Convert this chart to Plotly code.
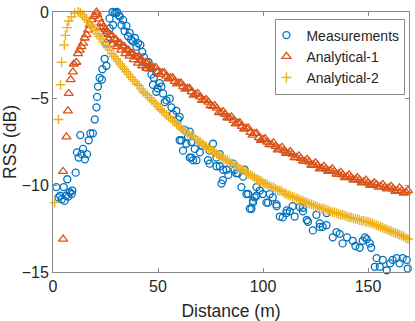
import plotly.graph_objects as go

# measured RSS
meas_x = [1.6, 2.6, 3.4, 4.2, 5.1, 5.5, 6.2, 6.8, 7.3, 8.0, 8.9, 9.2, 10.8,
          11.4, 12.2, 13.0, 13.6, 14.3, 15.2, 16.2, 17.0, 17.8, 19.0,
          19.9, 20.7, 21.0, 21.4, 22.2, 23.3, 23.5, 24.6, 25.4, 25.4, 25.7, 26.9, 27.0,
          28.3, 28.6, 29.4, 30.2, 30.5, 31.4, 31.8, 32.6, 33.3, 34.1, 35.0, 35.7, 36.5,
          37.2, 38.1, 39.0, 39.7, 40.5, 41.6, 42.5, 43.3, 44.5, 45.5, 46.4, 46.9, 47.6,
          48.0, 49.2, 49.2, 49.8, 50.8, 51.6, 52.4, 53.2, 54.0, 55.6, 56.4, 57.1, 58.7,
          59.5, 60.3, 60.3, 61.1, 61.9, 62.7, 63.5, 64.3, 65.1, 65.1, 65.9, 65.9, 66.7,
          67.5, 68.3, 69.9, 71.0, 73.8, 74.6, 74.6, 76.2, 77.8, 77.8, 79.4, 79.4, 80.2,
          80.9, 81.0, 82.6, 83.5, 85.7, 86.5, 87.3, 88.1, 89.7, 90.5, 91.3, 92.1, 92.9,
          93.7, 94.5, 95.2, 95.2, 96.0, 96.9, 96.9, 98.5, 99.9, 101.6, 102.4, 103.2,
          104.6, 106.4, 106.5, 108.0, 109.4, 111.1, 111.3, 112.7, 114.1, 115.1, 117.5,
          118.9, 119.0, 120.8, 121.4, 123.7, 125.4, 127.0, 127.0, 128.4, 130.2, 130.3,
          133.2, 135.0, 136.5, 137.9, 140.0, 142.7, 144.0, 146.0, 147.5, 148.5, 149.4,
          150.8, 151.5, 153.2, 154.1, 155.6, 157.0, 158.9, 160.5, 161.7, 163.6, 165.0,
          166.5, 168.4, 168.9, 169.8]
meas_y = [-10.1, -10.7, -10.6, -10.8, -10.1, -10.9, -10.6, -9.65, -10.65, -10.4, -10.5, -10.3, -9.27,
          -8.1, -8.4, -7.1, -8.2, -7.9, -8.5, -8.2, -7.4, -7.0, -7.0,
          -6.2, -5.5, -4.9, -4.3, -3.8, -3.9, -3.3, -2.7, -3.1, -1.8, -1.2, -0.37, -0.95,
          0.0, -0.75, -0.05, -0.08, 0.0, -0.2, -0.27, -0.75, -0.46, -1.1, -0.8, -1.4, -1.2,
          -1.6, -1.7, -1.5, -2.0, -1.8, -1.9, -2.3, -2.6, -3.2, -2.9, -3.2, -3.6, -4.2,
          -3.8, -3.5, -4.6, -4.4, -4.1, -4.3, -4.7, -5.2, -5.1, -5.0, -5.5, -5.9, -5.7,
          -6.2, -6.05, -7.4, -7.4, -8.0, -6.8, -7.6, -7.2, -6.9, -8.4, -7.5, -8.4, -8.55,
          -7.9, -8.55, -8.1, -7.7, -8.55, -8.0, -8.75, -7.6, -8.4, -8.9, -8.2, -8.9, -9.9,
          -9.7, -9.1, -9.1, -9.4, -8.75, -9.1, -9.3, -9.3, -10.1, -9.5, -9.1, -10.5, -10.5,
          -11.35, -11.35, -10.9, -11.0, -10.7, -10.6, -10.1, -10.3, -10.5, -11.0, -11.0, -10.5,
          -10.7, -11.1, -11.2, -11.8, -11.85, -11.6, -11.45, -11.5, -11.2, -11.8, -11.25,
          -11.3, -11.5, -12.0, -12.1, -12.6, -11.7, -12.2, -12.4, -12.4, -12.3, -11.6,
          -13.0, -12.7, -12.8, -13.35, -13.0, -13.2, -13.5, -13.6, -13.2, -13.0, -13.1,
          -13.35, -13.6, -14.7, -14.2, -14.7, -14.3, -14.9, -14.5, -14.3, -14.2, -14.5,
          -14.2, -14.3, -14.8, -13.6]

# analytical model 1
ana1_x = [4.8, 4.8, 6.4, 7.1, 7.5, 8.4, 9.5, 9.9, 11.1, 11.9, 12.7, 13.5, 14.3, 15.1, 15.9,
          16.7, 17.5, 18.3, 19.5, 20.7,
          21, 22, 23, 24, 25, 26, 27, 28, 29, 30, 31, 32, 33, 34, 35, 36, 37, 38, 39,
          22.5, 24.5, 26.5, 28.5, 30.5, 32.5, 34.5, 36.5, 38.5, 40.5, 42.5, 44.5,
          40, 41, 42, 43, 44, 45, 46, 47, 48, 49, 50, 51, 52, 53, 54, 55, 56, 57, 58, 59,
          60, 61, 62, 63, 64, 65, 66, 67, 68, 69, 70, 71, 72, 73, 74, 75, 76, 77, 78, 79,
          80, 81, 82, 83, 84, 85, 86, 87, 88, 89, 90, 91, 92, 93, 94, 95, 96, 97, 98, 99,
          100, 101, 102, 103, 104, 105, 106, 107, 108, 109, 110, 111, 112, 113, 114, 115,
          116, 117, 118, 119, 120, 121, 122, 123, 124, 125, 126, 127, 128, 129, 130, 131,
          132, 133, 134, 135, 136, 137, 138, 139, 140, 141, 142, 143, 144, 145, 146, 147,
          148, 149, 150, 151, 152, 153, 154, 155, 156, 157, 158, 159, 160, 161, 162, 163,
          164, 165, 166, 167, 168, 169, 170]
ana1_y = [-13.1, -9.2, -7.2, -5.7, -4.7, -3.9, -3.45, -3.0, -2.9, -2.4, -2.2, -2.0, -1.8, -1.5, -1.3,
          -1.04, -0.75, -0.46, -0.25, 0.0,
          -0.15, -0.4, -0.65, -0.85, -1.0, -1.15, -1.3, -1.35, -1.55, -1.6, -1.75, -1.8, -1.95,
          -2.0, -2.15, -2.2, -2.35, -2.4, -2.55,
          -0.9, -1.3, -1.6, -1.85, -2.0, -2.2, -2.4, -2.55, -2.75, -2.95, -3.1, -3.25,
          -2.6, -2.55, -2.8, -2.95, -2.9, -2.9, -3.1, -3.25, -3.2, -3.2, -3.45, -3.6, -3.5,
          -3.5, -3.7, -3.85, -3.8, -3.8, -4.0, -4.15, -4.1, -4.1, -4.3, -4.45, -4.4, -4.4,
          -4.6, -4.8, -4.75, -4.7, -4.9, -5.1, -5.1, -5.05, -5.2, -5.4, -5.45, -5.4, -5.55,
          -5.8, -5.8, -5.75, -5.9, -6.1, -6.1, -6.05, -6.25, -6.45, -6.4, -6.4, -6.6, -6.75,
          -6.7, -6.7, -6.95, -7.1, -7.0, -7.0, -7.25, -7.4, -7.35, -7.3, -7.5, -7.65, -7.65,
          -7.55, -7.75, -7.95, -7.9, -7.8, -8.0, -8.15, -8.15, -8.05, -8.2, -8.4, -8.4, -8.3,
          -8.45, -8.6, -8.6, -8.5, -8.65, -8.85, -8.8, -8.7, -8.85, -9.05, -9.0, -8.9, -9.05,
          -9.2, -9.15, -9.05, -9.2, -9.35, -9.35, -9.25, -9.4, -9.55, -9.5, -9.4, -9.55, -9.7,
          -9.65, -9.55, -9.7, -9.85, -9.8, -9.7, -9.85, -10.0, -9.95, -9.85, -9.95, -10.1,
          -10.05, -9.95, -10.1, -10.2, -10.15, -10.05, -10.2, -10.35, -10.3, -10.15, -10.3,
          -10.45, -10.4, -10.3, -10.45]

# analytical model 2
ana2_x = [0.8, 2.6, 3.6, 4.1, 5.4, 5.9, 6.7, 7.5, 8.8, 10.3, 12,
          13, 14, 15, 16, 17, 18, 19, 20, 21, 22, 23, 24, 25, 26, 27, 28, 29, 30, 31, 32,
          33, 34, 35, 36, 37, 38, 39,
          40, 41, 42, 43, 44, 45, 46, 47, 48, 49, 50, 51, 52, 53, 54, 55, 56, 57, 58, 59,
          60, 61, 62, 63, 64, 65, 66, 67, 68, 69, 70, 71, 72, 73, 74, 75, 76, 77, 78, 79,
          80, 81, 82, 83, 84, 85, 86, 87, 88, 89, 90, 91, 92, 93, 94, 95, 96, 97, 98, 99,
          100, 101, 102, 103, 104, 105, 106, 107, 108, 109, 110, 111, 112, 113, 114, 115,
          116, 117, 118, 119, 120, 121, 122, 123, 124, 125, 126, 127, 128, 129, 130, 131,
          132, 133, 134, 135, 136, 137, 138, 139, 140, 141, 142, 143, 144, 145, 146, 147,
          148, 149, 150, 151, 152, 153, 154, 155, 156, 157, 158, 159, 160, 161, 162, 163,
          164, 165, 166, 167, 168, 169, 170]
ana2_y = [-11.0, -6.2, -4.2, -2.9, -1.9, -1.35, -0.9, -0.52, -0.27, -0.08, 0.0,
          -0.05, -0.15, -0.3, -0.45, -0.6, -0.75, -0.9, -1.05, -1.25, -1.4, -1.55, -1.75,
          -1.9, -2.05, -2.2, -2.4, -2.55, -2.7, -2.85, -3.0, -3.15, -3.3, -3.45, -3.6,
          -3.75, -3.9, -4.0,
          -4.15, -4.25, -4.45, -4.6, -4.7, -4.8, -4.95, -5.1, -5.2, -5.3, -5.45, -5.6, -5.7,
          -5.8, -5.95, -6.05, -6.15, -6.25, -6.35, -6.5, -6.6, -6.7, -6.8, -6.85, -7.0,
          -7.1, -7.15, -7.2, -7.35, -7.45, -7.5, -7.6, -7.7, -7.75, -7.85, -7.95, -8.0,
          -8.1, -8.2, -8.25, -8.35, -8.45, -8.5, -8.55, -8.65, -8.75, -8.8, -8.85, -8.95,
          -9.05, -9.1, -9.15, -9.25, -9.35, -9.4, -9.45, -9.55, -9.65, -9.7, -9.75, -9.85,
          -9.9, -9.95, -10.05, -10.1, -10.1, -10.2, -10.3, -10.3, -10.35, -10.45, -10.5,
          -10.55, -10.6, -10.65, -10.7, -10.75, -10.8, -10.85, -10.9, -10.95, -11.0, -11.05,
          -11.1, -11.15, -11.2, -11.25, -11.3, -11.35, -11.35, -11.4, -11.45, -11.5, -11.55,
          -11.55, -11.6, -11.65, -11.7, -11.7, -11.75, -11.8, -11.85, -11.85, -11.9, -11.95,
          -11.95, -12.0, -12.05, -12.05, -12.1, -12.1, -12.15, -12.2, -12.25, -12.3, -12.35,
          -12.4, -12.45, -12.5, -12.55, -12.6, -12.65, -12.7, -12.75, -12.8, -12.85, -12.9,
          -12.95, -13.05, -13.1, -13.15]

font = "Liberation Sans, Arial, sans-serif"
grey = "#8a8a8a"
txt = "#262626"

fig = go.Figure()
fig.add_trace(go.Scatter(x=meas_x, y=meas_y, mode="markers", name="Measurements",
                         cliponaxis=False,
                         marker=dict(symbol="circle-open", size=7, color="#0072BD",
                                     line=dict(width=1.3))))
fig.add_trace(go.Scatter(x=ana1_x, y=ana1_y, mode="markers", name="Analytical-1",
                         cliponaxis=False,
                         marker=dict(symbol="triangle-up-open", size=8, color="#D95319",
                                     line=dict(width=1.3))))
fig.add_trace(go.Scatter(x=ana2_x, y=ana2_y, mode="markers", name="Analytical-2",
                         cliponaxis=False,
                         marker=dict(symbol="cross-thin-open", size=7, color="#EDB120",
                                     line=dict(width=1.4))))

axis_style = dict(showline=True, linecolor=grey, linewidth=1, mirror="ticks",
                  ticks="inside", ticklen=4, tickcolor=grey, showgrid=False,
                  zeroline=False, automargin=False,
                  tickfont=dict(size=16, color=txt))

fig.update_xaxes(range=[0, 169.5], tickvals=[0, 50, 100, 150],
                 title=dict(text="Distance (m)", font=dict(size=17.5, color=txt),
                            standoff=10),
                 **axis_style)
fig.update_yaxes(range=[-15, 0], tickvals=[-15, -10, -5, 0],
                 title=dict(text="RSS (dB)", font=dict(size=17.5, color=txt),
                            standoff=4),
                 **axis_style)

fig.update_layout(
    width=415, height=321,
    margin=dict(l=53, r=6, t=12, b=49),
    paper_bgcolor="white", plot_bgcolor="white",
    font=dict(family=font, color=txt),
    legend=dict(x=0.99, y=0.975, xanchor="right", yanchor="top",
                bgcolor="white", bordercolor=grey, borderwidth=1,
                font=dict(size=14), tracegroupgap=0, itemwidth=30,
                indentation=-10),
    showlegend=True,
)

# page body has a default 8px margin; drop it so the figure sits at the corner
fig.write_html("out.html", config={"displayModeBar": False},
               post_script="document.body.style.margin='0';")
